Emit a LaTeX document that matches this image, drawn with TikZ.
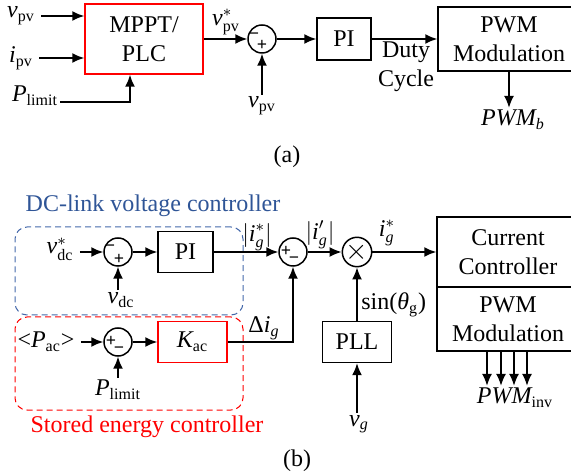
\documentclass[tikz,border=0pt]{standalone}
\usepackage{amsmath}
\usepackage{fontspec}
\setmainfont{Liberation Serif}
\usetikzlibrary{arrows.meta,calc}
\usetikzlibrary{positioning}
\definecolor{dcblue}{RGB}{47,85,151}
\definecolor{dcline}{RGB}{68,104,170}
\definecolor{sered}{RGB}{255,0,0}
\tikzset{
    block/.style={
           rectangle,
           draw=black, line width=0.75pt,
           inner sep=2pt,
           align=center,
           },
    redblock/.style={
           block,
           draw=sered,
           },
    sum/.style={
           circle,
           draw=black, line width=0.75pt,
           minimum size=14pt,
           inner sep=0pt,
           },
    sgn/.style={
           inner sep=0pt,
           font=\fontsize{9pt}{9pt}\selectfont\bfseries,
           },
    lbl/.style={
           inner sep=1pt,
           },
    group/.style={
           rectangle,
           rounded corners=6pt,
           dash pattern=on 3pt off 2pt,
           line width=0.5pt,
           },
    pil/.style={
           ->,
           line width=0.8pt,}
}

\begin{document}
\begin{tikzpicture}[x=0.5pt,y=-0.5pt,>={Latex[length=6pt,width=5pt]},
  every node/.style={font=\fontsize{12pt}{14.5pt}\selectfont}]
\useasboundingbox (0,0) rectangle (571,474);
% (a) PV SIDE
% Position of MPPT/PLC block (MPPT)
\node[redblock, minimum width=59pt, minimum height=35pt] (MPPT) at (144,39) {MPPT/\\PLC};
% Position of summing point (SUMA)
\node[sum, right of = MPPT, node distance = 59pt] (SUMA) {};
\node[sgn] (SUMAm) at ([shift={(-8,-3)}]SUMA.center) {−};
\node[sgn] (SUMAp) at ([shift={(0,6)}]SUMA.center) {+};
% Position of PI and PWM blocks (PIA, PWMA)
\node[block, minimum width=27pt, minimum height=21pt, right of = SUMA, node distance = 41pt] (PIA) {PI};
\node[block, minimum width=71pt, minimum height=32pt, right of = PIA, node distance = 82.5pt] (PWMA) {PWM\\Modulation};
% Signals
\node[lbl] (VPV) at (21,16) {$\textit{v}_{\text{pv}}$};
\node[lbl] (IPV) at (21,58) {$\textit{i}_{\text{pv}}$};
\node[lbl, anchor=base] (PLIM) at (35,102) {$\textit{P}_{\text{limit}}$};
\node[lbl] (VPVS) at (226,22) {$\textit{v}^{*}_{\text{pv}}$};
\node[lbl] (VPVB) at (262,106) {$\textit{v}_{\text{pv}}$};
\node[lbl, align=center] (DUTY) at (406,67) {Duty\\Cycle};
\node[lbl] (PWMBL) at (513,120) {$\textit{PWM}_{\textit{b}}$};
\node[lbl] (CAPA) at (287,157) {(a)};
% Draw lines
\draw[pil, shorten <=2pt] (VPV.east) -- (MPPT.west |- VPV.east);
\draw[pil, shorten <=2pt] (IPV.east) -- (MPPT.west |- IPV.east);
\draw[pil] (PLIM.base east) -| ([xshift=-7pt]MPPT.south);
\draw[pil] (MPPT) -- (SUMA);
\draw[pil] (VPVB) -- (SUMA);
\draw[pil] (SUMA) -- (PIA);
\draw[pil] (PIA) -- (PWMA);
\draw[pil] (PWMA.south) -- (PWMA.south |- PWMBL.north);
% (b) GRID SIDE
% Position of controller groups (DCBOX, SEBOX)
\node[group, draw=dcline, minimum width=114pt, minimum height=44pt] (DCBOX) at (129,271) {};
\node[group, draw=sered, minimum width=114pt, minimum height=46.5pt] (SEBOX) at (129,363.5) {};
\node[lbl, text=dcblue] (DCT) at (153,206) {DC-link voltage controller};
\node[lbl, text=sered] (SET) at (147,427) {Stored energy controller};
% Position of summing points and blocks
\node[sum] (SUMDC) at (118,252) {};
\node[sgn] (SUMDCm) at ([shift={(-8,-4)}]SUMDC.center) {−};
\node[sgn] (SUMDCp) at ([shift={(1,7)}]SUMDC.center) {+};
\node[block, minimum width=27.5pt, minimum height=20.5pt] (PIB) at (185.5,252) {PI};
\node[sum] (SUMI) at (293,252) {};
\node[sgn] (SUMIp) at ([shift={(-7,-1)}]SUMI.center) {+};
\node[sgn] (SUMIm) at ([shift={(1,8)}]SUMI.center) {−};
\node[sum, font=\fontsize{14pt}{14pt}\selectfont] (MUL) at (357,252) {$\times$};
\node[sum] (SUMP) at (118,342) {};
\node[sgn] (SUMPp) at ([shift={(-7,-1)}]SUMP.center) {+};
\node[sgn] (SUMPm) at ([shift={(1,8)}]SUMP.center) {−};
\node[redblock, minimum width=34.5pt, minimum height=20.5pt] (KAC) at (192.5,342) {$\textit{K}_{\text{ac}}$};
\node[block, minimum width=34.5pt, minimum height=20.5pt] (PLL) at (357,342) {PLL};
\node[block, minimum width=71pt, minimum height=35pt] (CC) at (508,252) {Current\\Controller};
\node[block, minimum width=71pt, minimum height=32pt, below of = CC, node distance = 33.5pt] (PWMI) {PWM\\Modulation};
% Signals
\node[lbl] (VDCS) at (60,249) {$\textit{v}^{*}_{\text{dc}}$};
\node[lbl] (VDC) at (121,300) {$\textit{v}_{\text{dc}}$};
\node[lbl] (PAC) at (46,342) {<$\textit{P}_{\text{ac}}$>};
\node[lbl] (PLIMB) at (118,390) {$\textit{P}_{\text{limit}}$};
\node[lbl] (IGS) at (257,237) {$|\textit{i}^{*}_{\textit{g}}|$};
\node[lbl] (DIG) at (264,328) {Δ$\textit{i}_{\textit{g}}$};
\node[lbl] (IGP) at (320,235) {$|\textit{i}'_{\textit{g}}|$};
\node[lbl] (IGR) at (387,233) {$\textit{i}^{*}_{\textit{g}}$};
\node[lbl, anchor=west] (SIN) at (359,305) {sin(\textit{θ}\textsubscript{g})};
\node[lbl] (VG) at (359,424) {$\textit{v}_{\textit{g}}$};
\node[lbl] (PWMINV) at (515,398) {$\textit{PWM}_{\text{inv}}$};
\node[lbl] (CAPB) at (297,461) {(b)};
% Draw lines
\draw[pil, shorten <=2pt] (VDCS.east |- SUMDC) -- (SUMDC);
\draw[pil] (SUMDC |- VDC.north) -- (SUMDC);
\draw[pil] (SUMDC) -- (PIB);
\draw[pil] (PIB) -- (SUMI);
\draw[pil, shorten <=2pt] (PAC.east |- SUMP) -- (SUMP);
\draw[pil] (PLIMB) -- (SUMP);
\draw[pil] (SUMP) -- (KAC);
\draw[pil] (KAC) -| (SUMI);
\draw[pil] (SUMI) -- (MUL);
\draw[pil] (PLL) -- (MUL);
\draw[pil] (PLL |- VG.north) -- (PLL);
\draw[pil] (MUL) -- (CC);
\foreach \dx in {-10.5,-3.5,3,9.5}
  \draw[pil] ([xshift=\dx pt]PWMI.south) -- ([xshift=\dx pt]PWMI.south |- PWMINV.north);
\end{tikzpicture}
\end{document}
